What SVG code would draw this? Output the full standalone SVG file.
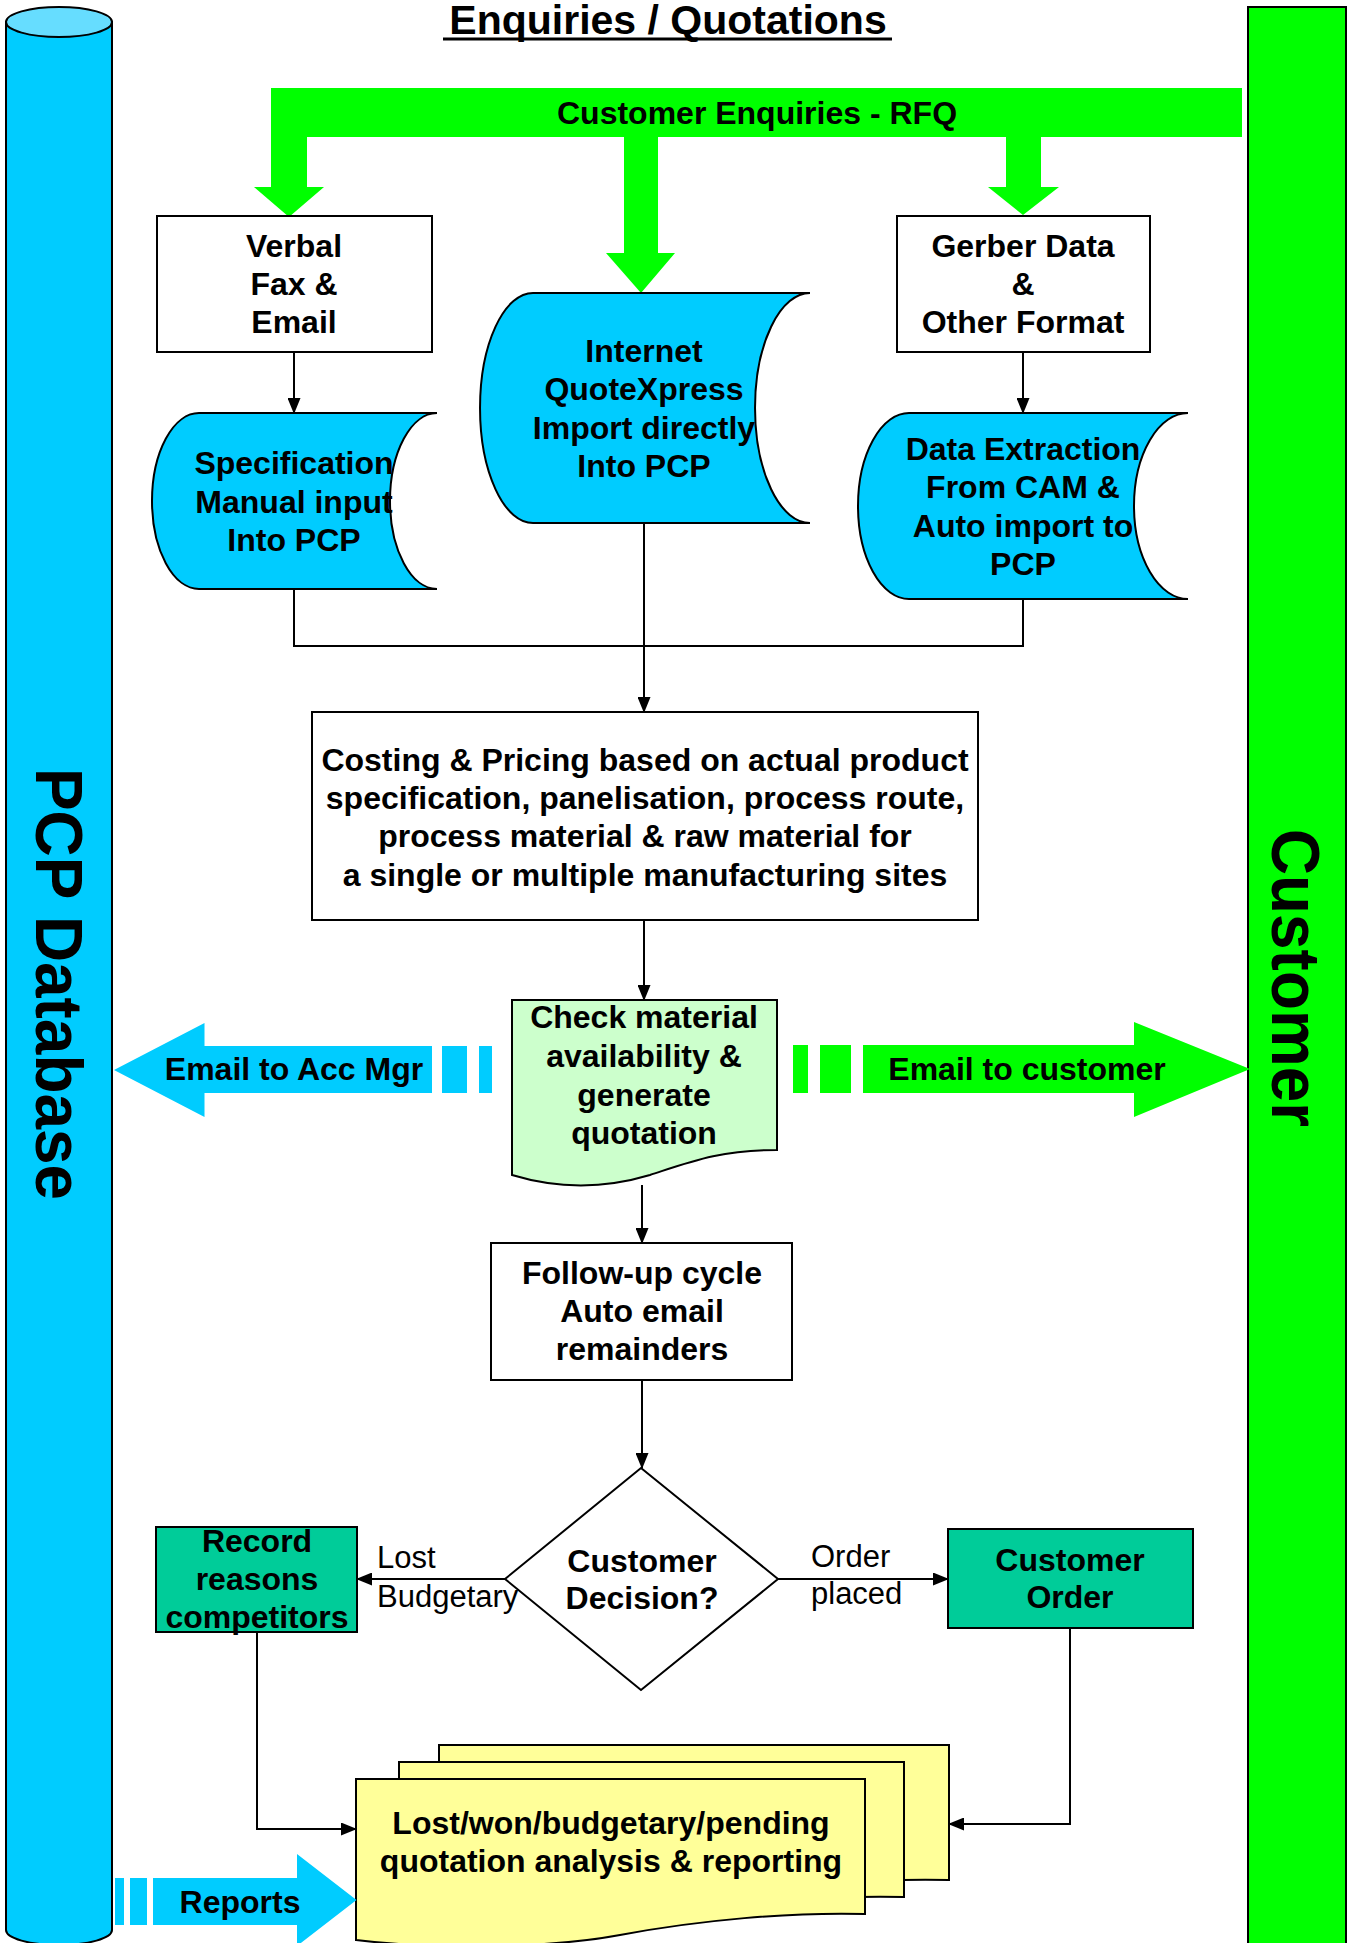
<svg xmlns="http://www.w3.org/2000/svg" width="1357" height="1943" viewBox="0 0 1357 1943">
<style>
text{font-family:"Liberation Sans",Arial,sans-serif;fill:#000}
.b{font-weight:bold;font-size:32px;text-anchor:middle}
.r{font-size:31px}
.ln{fill:none;stroke:#000;stroke-width:2}
.box{fill:#fff;stroke:#000;stroke-width:2}
.cy{fill:#00CCFF;stroke:#000;stroke-width:2}
.tl{fill:#00CC99;stroke:#000;stroke-width:2}
.doc{fill:#FFFF99;stroke:#000;stroke-width:2}
</style>
<defs>
<marker id="ah" markerWidth="16" markerHeight="13" refX="15" refY="6.5" orient="auto" markerUnits="userSpaceOnUse"><path d="M0,0 L16,6.5 L0,13 Z" fill="#000"/></marker>
</defs>
<rect width="1357" height="1943" fill="#fff"/>

<g id="pcp-database">
<path d="M6,22 V1930 A53,15 0 0 0 112,1930 V22 Z" fill="#00CCFF" stroke="#000" stroke-width="2"/>
<ellipse cx="59" cy="22" rx="53" ry="15" fill="#66DDFF" stroke="#000" stroke-width="2"/>
<text transform="translate(36,984) rotate(90)" text-anchor="middle" font-weight="bold" font-size="66" textLength="432" lengthAdjust="spacingAndGlyphs">PCP Database</text>
</g>

<g id="customer-lane">
<rect x="1248" y="7" width="98" height="1950" fill="#00FF00" stroke="#000" stroke-width="2"/>
<text transform="translate(1272,978) rotate(90)" text-anchor="middle" font-weight="bold" font-size="68" textLength="298" lengthAdjust="spacingAndGlyphs">Customer</text>
</g>

<g id="title">
<text x="668" y="34" text-anchor="middle" font-weight="bold" font-size="41">Enquiries / Quotations</text>
<line x1="443" y1="39" x2="892" y2="39" stroke="#000" stroke-width="3"/>
</g>

<g id="customer-enquiries">
<path d="M271,88 H1242 V137 H1041 V187 H1059 L1023,215 L988,187 H1006 V137 H658 V253 H675 L641,293 L606,253 H624 V137 H307 V187 H324 L289,217 L254,187 H271 Z" fill="#00FF00"/>
<text x="757" y="124" class="b" font-size="31">Customer Enquiries - RFQ</text>
</g>

<g id="verbal">
<rect x="157" y="216" width="275" height="136" class="box"/>
<text class="b"><tspan x="294" y="257">Verbal</tspan><tspan x="294" y="295">Fax &amp;</tspan><tspan x="294" y="333">Email</tspan></text>
</g>

<g id="gerber">
<rect x="897" y="216" width="253" height="136" class="box"/>
<text class="b"><tspan x="1023" y="257">Gerber Data</tspan><tspan x="1023" y="295">&amp;</tspan><tspan x="1023" y="333">Other Format</tspan></text>
</g>

<g id="specification">
<path d="M199,413 H437 A47,88 0 0 0 437,589 H199 A47,88 0 0 1 199,413 Z" class="cy"/>
<text class="b"><tspan x="294" y="474">Specification</tspan><tspan x="294" y="513">Manual input</tspan><tspan x="294" y="551">Into PCP</tspan></text>
</g>

<g id="internet">
<path d="M533,293 H810 A55,115 0 0 0 810,523 H533 A53,115 0 0 1 533,293 Z" class="cy"/>
<text class="b"><tspan x="644" y="362">Internet</tspan><tspan x="644" y="400">QuoteXpress</tspan><tspan x="644" y="439">Import directly</tspan><tspan x="644" y="477">Into PCP</tspan></text>
</g>

<g id="data-extraction">
<path d="M909,413 H1188 A54,93 0 0 0 1188,599 H909 A51,93 0 0 1 909,413 Z" class="cy"/>
<text class="b"><tspan x="1023" y="460">Data Extraction</tspan><tspan x="1023" y="498">From CAM &amp;</tspan><tspan x="1023" y="537">Auto import to</tspan><tspan x="1023" y="575">PCP</tspan></text>
</g>

<g id="costing">
<rect x="312" y="712" width="666" height="208" class="box"/>
<text class="b"><tspan x="645" y="771">Costing &amp; Pricing based on actual product</tspan><tspan x="645" y="809">specification, panelisation, process route,</tspan><tspan x="645" y="847">process material &amp; raw material for</tspan><tspan x="645" y="886">a single or multiple manufacturing sites</tspan></text>
</g>

<g id="check-material">
<path d="M512,1000 H777 V1150 C720,1150 690,1162 650,1175 C600,1190 555,1188 512,1175 Z" fill="#CCFFCC" stroke="#000" stroke-width="2"/>
<text class="b"><tspan x="644" y="1028">Check material</tspan><tspan x="644" y="1067">availability &amp;</tspan><tspan x="644" y="1106">generate</tspan><tspan x="644" y="1144">quotation</tspan></text>
</g>

<g id="email-acc-mgr">
<path d="M114,1070 L204.5,1023 V1046 H432 V1093 H204.5 V1117 Z" fill="#00CCFF"/>
<rect x="442" y="1046" width="25" height="47" fill="#00CCFF"/>
<rect x="479" y="1046" width="13" height="47" fill="#00CCFF"/>
<text x="294" y="1080" class="b">Email to Acc Mgr</text>
</g>

<g id="email-customer">
<path d="M1250,1069 L1134,1022 V1045 H863 V1093 H1134 V1117 Z" fill="#00FF00"/>
<rect x="793" y="1045" width="15" height="48" fill="#00FF00"/>
<rect x="820" y="1045" width="31" height="48" fill="#00FF00"/>
<text x="1027" y="1080" class="b">Email to customer</text>
</g>

<g id="follow-up">
<rect x="491" y="1243" width="301" height="137" class="box"/>
<text class="b"><tspan x="642" y="1284">Follow-up cycle</tspan><tspan x="642" y="1322">Auto email</tspan><tspan x="642" y="1360">remainders</tspan></text>
</g>

<g id="decision">
<path d="M641,1468 L778,1579 L641,1690 L505,1579 Z" class="box"/>
<text class="b"><tspan x="642" y="1572">Customer</tspan><tspan x="642" y="1609">Decision?</tspan></text>
</g>

<g id="record-reasons">
<rect x="156" y="1527" width="201" height="105" class="tl"/>
<text class="b"><tspan x="257" y="1552">Record</tspan><tspan x="257" y="1590">reasons</tspan><tspan x="257" y="1628">competitors</tspan></text>
</g>

<g id="customer-order">
<rect x="948" y="1529" width="245" height="99" class="tl"/>
<text class="b"><tspan x="1070" y="1571">Customer</tspan><tspan x="1070" y="1608">Order</tspan></text>
</g>

<g id="reports-docs">
<path d="M439,1745 H949 V1880 C874,1878 784,1886 704,1901 C624,1916 504,1914 439,1906 Z" class="doc"/>
<path d="M399,1762 H904 V1897 C829,1895 739,1903 659,1918 C579,1933 459,1931 399,1923 Z" class="doc"/>
<path d="M356,1779 H865 V1914 C790,1912 700,1920 620,1935 C540,1950 420,1948 356,1940 Z" class="doc"/>
<text class="b"><tspan x="611" y="1834">Lost/won/budgetary/pending</tspan><tspan x="611" y="1872">quotation analysis &amp; reporting</tspan></text>
</g>

<g id="reports-arrow">
<path d="M356.5,1900 L297,1854 V1878 H153 V1925 H297 V1946 Z" fill="#00CCFF"/>
<rect x="115" y="1878" width="9" height="47" fill="#00CCFF"/>
<rect x="130" y="1878" width="17" height="47" fill="#00CCFF"/>
<text x="240" y="1913" class="b">Reports</text>
</g>

<g id="connectors">
<path d="M294,352 V413" class="ln" marker-end="url(#ah)"/>
<path d="M1023,352 V413" class="ln" marker-end="url(#ah)"/>
<path d="M294,589 V646 H1023 V599" class="ln"/>
<path d="M644,523 V712" class="ln" marker-end="url(#ah)"/>
<path d="M644,920 V1000" class="ln" marker-end="url(#ah)"/>
<path d="M642,1185 V1243" class="ln" marker-end="url(#ah)"/>
<path d="M642,1380 V1468" class="ln" marker-end="url(#ah)"/>
<path d="M505,1579 H357" class="ln" marker-end="url(#ah)"/>
<path d="M778,1579 H948" class="ln" marker-end="url(#ah)"/>
<path d="M257,1632 V1829 H356" class="ln" marker-end="url(#ah)"/>
<path d="M1070,1628 V1824 H949" class="ln" marker-end="url(#ah)"/>
<text x="377" y="1568" class="r">Lost</text>
<text x="377" y="1607" class="r">Budgetary</text>
<text x="811" y="1567" class="r">Order</text>
<text x="811" y="1604" class="r">placed</text>
</g>
</svg>
